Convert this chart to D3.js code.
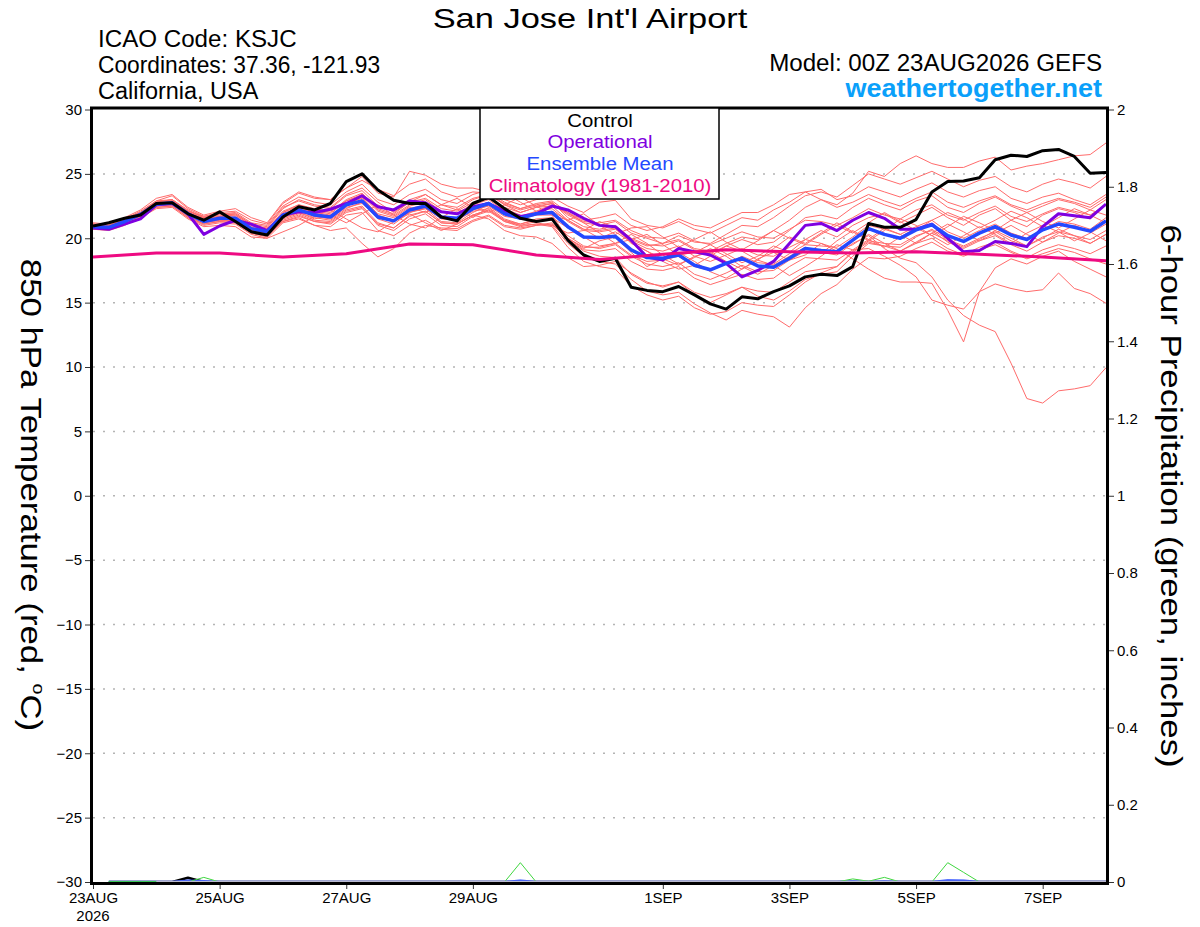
<!DOCTYPE html>
<html>
<head>
<meta charset="utf-8">
<script src="https://cdn.jsdelivr.net/npm/d3@7"></script>
<style>
  body { margin: 0; background: #fff; }
  svg { display: block; font-family: "Liberation Sans", Arial, Helvetica, sans-serif; }
</style>
</head>
<body>
<svg id="chart" width="1200" height="927"></svg>
<script>
// run start and 6-hourly steps (0..384 h)
var runStart = Date.UTC(2026, 7, 23, 0);
var stepHours = 6;

var controlTemp = [20.95,21.2,21.55,21.8,22.7, 22.75,21.9,21.4,22.05,21.3, 20.5,20.25,21.65,22.45,22.2, 22.7,24.4,25.0,23.75,22.95,
  22.7,22.7,21.65,21.35,22.7, 23.2,22.3,21.55,21.3,21.5, 19.85,18.7,18.2,18.45,16.2, 15.95,15.85,16.25,15.6,14.9,
  14.5,15.45,15.3,15.85,16.3, 17.0,17.2,17.1,17.8,21.15, 20.85,20.85,21.45,23.6,24.4, 24.45,24.7,26.1,26.45,26.35,
  26.8,26.9,26.35,25.05,25.1];

var operationalTemp = [20.8,20.7,21.1,21.5,22.6, 22.7,21.9,20.3,20.95,21.4, 21.1,20.6,21.8,22.05,22.0, 22.25,22.7,23.3,22.45,22.2,
  22.9,22.75,22.05,21.9,22.45, 22.7,22.1,21.7,21.9,22.5, 22.2,21.55,21.0,20.9,19.85, 18.55,18.3,19.2,18.95,18.7,
  18.05,17.0,17.5,18.2,19.6, 21.0,21.15,20.6,21.4,22.0, 21.55,20.7,20.7,21.1,20.0, 18.95,19.05,19.75,19.6,19.35,
  20.9,21.9,21.75,21.6,22.65];

var meanTemp = [20.9,20.85,21.3,21.85,22.65, 22.75,21.9,21.3,21.55,21.55, 20.75,20.5,21.8,22.2,21.8, 21.65,22.6,22.9,21.65,21.35,
  22.2,22.5,21.65,21.55,22.3, 22.7,21.9,21.55,21.9,22.0, 20.9,20.1,20.05,20.15,19.1, 18.5,18.45,18.7,17.9,17.55,
  18.05,18.45,17.85,17.75,18.45, 19.2,19.05,18.95,19.85,20.75, 20.3,20.0,20.65,21.05,20.2, 19.75,20.4,20.9,20.25,19.9,
  20.65,21.1,20.85,20.55,21.35];

// daily climatology (00Z each day)
var climoTemp = [18.55,18.85,18.85,18.55,18.8,19.55,19.5,18.7,18.35,18.75,19.1,18.95,18.85,18.95,18.75,18.55,18.25];

var ensembleMembers = [
  [21.1,21.0,21.5,22.0,22.9, 23.0,22.2,21.6,21.9,21.8, 21.0,20.8,22.3,23.0,22.6, 22.4,23.4,23.9,22.8,22.0, 22.8,23.4,22.6,22.2,23.0, 23.4,22.6,22.0,22.4,22.7, 21.8,21.2,21.0,21.3,20.4, 20.0,19.6,19.9,19.2,19.0, 19.6,20.1,19.9,20.6,21.4, 22.4,23.0,22.6,23.5,25.2, 24.8,25.8,26.4,25.8,25.5, 25.5,26.0,26.3,25.3,25.6, 25.8,26.1,26.4,26.5,27.4],
  [20.8,20.7,21.2,21.7,22.5, 22.6,21.7,21.1,21.3,21.2, 20.4,20.2,21.4,21.8,21.3, 21.2,22.1,22.4,21.0,20.6, 21.5,21.9,21.0,20.9,21.7, 22.1,21.3,21.0,21.3,21.4, 20.2,19.4,19.2,19.5,18.6, 18.0,17.8,18.1,17.2,16.8, 17.3,17.9,17.4,17.5,18.3, 19.0,18.9,18.7,19.6,20.2, 19.2,18.45,18.1,17.0,15.2, 14.0,13.25,12.75,10.3,7.55, 7.2,8.15,8.3,8.55,9.95],
  [21.0,20.9,21.4,21.9,22.7, 22.9,22.0,21.5,21.7,21.9, 21.1,20.7,22.0,22.6,22.1, 21.9,22.9,23.4,22.2,21.8, 22.6,23.0,22.1,21.9,22.6, 23.0,22.1,21.7,22.1,22.3, 21.3,20.6,20.5,20.7,19.8, 19.2,19.0,19.4,18.6,18.2, 18.7,19.2,18.7,18.6,19.3, 19.9,19.6,19.2,18.4,17.6, 16.9,16.6,16.6,16.5,14.4, 11.95,15.85,17.7,18.4,18.0, 18.6,19.0,18.2,17.6,17.0],
  [20.7,20.6,21.0,21.6,22.4, 22.5,21.6,21.0,21.2,21.1, 20.3,20.0,21.2,21.5,21.0, 20.9,21.8,22.0,20.6,20.2, 21.0,21.4,20.7,20.6,21.3, 21.7,20.9,20.7,21.0,21.1, 19.9,19.1,19.0,19.2,18.2, 17.6,17.5,17.8,16.9,16.4, 16.8,17.2,16.8,16.9,17.8, 18.5,18.4,18.3,19.1,19.2, 18.6,17.9,17.0,15.2,14.8, 14.5,15.85,16.45,16.1,15.85, 16.0,17.3,16.1,15.7,14.95],
  [20.9,20.8,21.2,21.8,22.6, 22.7,21.8,21.2,21.4,21.4, 20.6,20.3,21.5,21.9,21.4, 21.3,22.2,22.5,21.2,20.8, 21.7,22.1,21.2,21.1,21.8, 22.2,21.3,20.9,21.1,21.0, 19.6,18.6,18.2,18.0,16.8, 15.9,15.6,15.8,14.9,14.2, 13.65,14.4,14.1,13.9,13.1, 14.6,15.7,16.4,17.6,18.5, 18.4,18.6,19.2,19.7,19.0, 18.6,19.1,19.5,18.9,18.4, 18.8,19.2,18.9,18.4,18.0],
  [21.0,21.0,21.4,22.0,22.8, 23.0,22.1,21.7,21.9,22.0, 21.2,21.0,22.5,23.2,22.8, 22.6,23.6,24.2,23.0,22.6, 23.4,23.8,23.0,22.7,23.4, 23.75,23.0,22.6,23.0,23.2, 22.5,22.0,22.8,22.95,21.5, 21.0,20.8,21.3,20.7,20.4, 21.0,21.6,21.4,22.2,22.8, 23.6,23.8,23.0,23.3,24.0, 23.6,23.2,23.8,24.3,23.6, 23.2,23.7,24.0,23.1,22.7, 23.2,23.5,23.0,22.6,23.4],
  [21.2,21.1,21.6,22.2,23.1, 23.4,22.4,21.8,22.1,22.3, 21.6,21.2,22.8,23.6,23.2, 23.0,23.9,24.8,23.5,23.2, 25.2,24.9,24.2,23.9,23.9, 23.6,22.8,22.3,22.6,22.8, 21.6,20.9,20.7,21.0,20.0, 19.5,19.4,19.8,19.1,18.8, 19.4,19.9,19.5,19.7,20.6, 21.6,21.8,21.5,22.4,23.1, 22.6,22.2,22.9,23.3,22.4, 22.0,22.7,23.2,22.5,22.0, 22.5,23.0,22.7,22.2,23.0],
  [20.8,20.8,21.3,21.8,22.5, 22.6,21.7,21.2,21.4,21.3, 20.5,20.2,21.3,21.6,21.0, 20.6,20.8,19.6,18.55,19.2, 20.4,21.0,20.8,20.75,21.4, 21.8,21.0,20.8,21.0,21.2, 20.0,19.3,19.3,19.6,18.7, 18.2,18.3,18.6,17.8,17.5, 18.0,18.6,18.1,18.0,18.8, 19.5,19.4,19.3,20.1,21.0, 20.7,20.3,20.9,21.4,20.5, 20.0,20.6,21.1,20.4,20.0, 20.7,21.3,21.1,20.7,21.6],
  [20.9,20.9,21.2,21.7,22.5, 22.8,22.0,21.4,21.6,21.6, 20.8,20.5,21.9,22.4,22.0, 21.8,22.6,23.2,21.8,21.4, 22.0,22.3,21.3,21.2,22.0, 22.6,22.3,21.8,21.2,21.0, 20.4,20.6,21.3,20.8,19.6, 19.0,18.2,17.6,17.9,18.6, 19.4,19.0,18.3,19.2,20.1, 19.6,20.4,21.2,20.5,19.8, 20.6,21.5,21.0,20.2,20.9, 21.7,21.2,20.6,21.4,22.0, 21.3,20.8,21.5,22.2,21.8],
  [21.0,20.9,21.4,21.9,22.7, 22.9,22.1,21.6,21.8,21.7, 20.9,20.7,22.1,22.6,22.3, 22.1,22.9,23.3,22.1,21.7, 22.5,22.8,22.1,21.9,22.7, 23.1,23.5,22.8,22.1,22.6, 22.0,21.2,20.4,19.6,19.9, 20.3,19.5,18.7,18.9,19.5, 18.8,18.1,18.6,19.4,18.9, 19.9,20.6,20.1,21.0,21.6, 21.9,21.2,21.8,22.4,21.6, 21.0,21.8,22.3,21.4,20.9, 21.8,22.3,22.0,21.5,22.6],
  [20.8,20.7,21.1,21.6,22.3, 22.4,21.5,20.9,21.0,20.9, 20.1,20.0,20.5,21.0,21.7, 22.2,21.5,20.8,20.5,21.3, 21.9,21.2,20.6,21.1,21.8, 21.5,20.6,20.2,20.1,19.6, 18.5,17.8,17.9,18.2,17.3, 16.6,16.2,16.6,15.8,15.4, 15.7,16.2,15.9,15.8,16.6, 17.4,17.6,17.8,18.9,19.7, 19.4,19.0,19.6,20.0,19.2, 18.7,19.3,19.7,19.0,18.5, 19.1,19.5,19.2,18.8,19.4],
  [20.9,20.8,21.3,21.9,22.6, 22.7,21.9,21.3,21.5,21.6, 20.7,20.4,21.6,22.0,21.6, 21.4,22.3,22.8,21.5,21.1, 22.0,22.4,21.5,21.4,22.2, 22.5,21.7,21.5,21.9,22.1, 21.4,21.9,21.0,20.3,20.8, 20.9,20.1,19.3,19.9,20.5, 19.7,19.1,19.8,20.6,20.0, 19.5,20.3,21.0,20.4,21.2, 22.0,21.3,20.6,21.4,22.0, 21.5,20.8,21.4,22.1,21.6, 20.9,21.6,22.3,21.8,21.2],
  [20.9,20.8,21.2,21.8,22.6, 22.7,21.8,21.3,21.4,21.4, 20.6,20.3,21.6,22.0,21.5, 21.8,21.2,21.9,22.6,21.8, 21.1,20.8,21.6,22.3,21.6, 22.4,21.5,21.1,21.4,21.4, 19.9,19.0,18.6,18.5,17.2, 16.5,16.3,16.6,15.6,15.0, 15.6,16.2,15.5,15.2,15.9, 16.8,17.2,17.4,18.6,19.6, 19.4,19.3,20.1,20.7,19.9, 19.4,20.0,20.5,19.8,19.4, 20.1,20.5,20.2,19.9,20.6],
  [21.0,20.9,21.4,21.9,22.7, 22.8,22.0,21.5,21.7,21.8, 21.0,20.6,22.0,22.5,22.2, 22.0,23.0,23.5,22.3,21.9, 22.8,23.1,22.3,22.1,22.8, 23.2,22.4,22.0,22.4,22.5, 21.4,20.7,20.6,20.8,19.9, 19.4,19.6,20.2,19.7,19.6, 20.3,21.0,20.9,21.6,22.5, 23.3,23.6,23.2,24.1,25.0, 24.6,24.2,24.7,25.2,24.6, 24.0,24.5,24.8,24.0,23.6, 24.2,24.6,24.3,23.9,24.8],
  [20.8,20.8,21.3,21.8,22.6, 22.7,21.9,21.4,21.6,21.5, 20.8,20.6,21.8,22.1,21.7, 21.5,22.4,22.7,21.6,21.3, 22.3,22.6,21.7,21.6,22.4, 22.8,21.9,21.5,21.8,21.8, 20.0,19.2,19.8,20.1,18.9, 17.8,18.4,18.9,18.2,17.4, 16.9,17.6,18.3,17.9,17.1, 17.8,18.6,19.5,19.1,19.9, 20.8,20.3,19.6,20.4,21.1, 20.5,19.8,20.4,21.0,20.3, 19.7,20.4,21.0,20.5,19.8],
  [20.9,20.9,21.3,21.8,22.7, 22.8,22.0,21.5,21.7,21.6, 20.7,20.4,21.7,22.2,21.9, 21.7,22.5,23.0,21.7,21.3, 22.1,22.3,21.6,21.4,22.1, 22.3,21.4,21.0,21.1,20.9, 19.3,18.2,17.8,17.6,16.3, 15.6,15.2,15.5,14.6,14.1, 14.3,15.0,14.8,14.7,15.6, 16.6,17.3,17.8,19.0,19.8, 19.6,19.5,20.2,20.6,19.7, 19.2,19.8,20.2,19.5,19.0, 19.7,20.2,20.0,19.6,20.3],
  [21.1,21.0,21.5,22.0,22.8, 23.0,22.1,21.6,21.9,21.9, 21.1,20.9,22.4,22.9,22.5, 22.3,23.3,23.7,22.5,22.1, 23.0,23.4,22.6,22.4,23.1, 23.4,22.7,22.3,22.7,22.9, 22.0,21.4,21.6,21.9,21.0, 20.6,20.9,21.5,21.0,20.8, 21.4,22.0,22.0,22.6,23.4, 23.6,23.0,22.4,22.8,23.4, 22.9,22.5,23.1,23.6,22.8, 22.4,22.9,23.3,22.6,22.2, 22.7,23.1,22.8,22.4,23.2],
  [20.7,20.7,21.1,21.7,22.4, 22.5,21.6,21.1,21.3,21.2, 20.4,20.1,21.3,21.7,21.3, 21.1,22.0,22.3,21.1,20.8, 21.8,22.1,21.2,21.1,21.8, 22.2,21.4,21.1,21.5,21.6, 20.8,20.1,19.4,19.6,20.3, 19.6,18.7,18.0,18.5,19.2, 18.6,17.8,17.2,17.9,18.6, 19.3,18.8,19.8,20.6,19.9, 19.3,20.1,20.8,20.2,19.5, 20.2,20.9,20.3,19.6,20.4, 21.0,20.5,19.8,20.4,21.1],
  [21.0,20.9,21.3,21.9,22.6, 22.8,22.0,21.4,21.6,21.6, 20.8,20.6,21.9,22.3,21.9, 21.7,22.7,23.1,21.9,21.6, 22.4,22.0,22.6,23.1,22.4, 22.0,22.6,23.2,22.5,21.8, 21.4,20.7,20.0,20.5,19.7, 19.0,18.4,17.9,18.6,18.9, 18.2,17.6,18.4,18.9,18.3, 18.7,19.6,19.0,19.5,20.3, 19.6,19.0,19.7,20.4,19.8, 19.3,19.9,20.6,20.0,19.4, 20.0,20.7,20.2,19.6,20.3],
  [21.1,21.0,21.5,22.1,22.9, 23.3,22.3,21.7,22.0,22.1, 21.4,21.1,22.7,23.5,23.1, 23.0,23.9,24.5,23.8,23.3, 24.2,24.6,23.6,23.2,23.6, 23.5,22.6,22.2,22.5,22.7, 21.9,21.3,21.2,21.4,20.6, 20.1,20.0,20.4,19.8,19.5, 20.0,20.5,20.1,20.0,20.7, 21.4,21.3,21.0,21.6,22.3, 21.8,21.5,22.2,22.6,21.8, 21.4,22.0,22.5,21.7,21.3, 21.9,22.4,22.1,21.8,22.6]
];

// 6-hour precipitation (inches), one value per step 1..64 (first step has none)
var controlPrecip = [0,0,0,0,0,0.011,0,0,0,0, 0,0,0,0,0,0,0,0,0,0, 0,0,0,0,0,0,0,0,0,0, 0,0,0,0,0,0,0,0,0,0,
  0,0,0,0,0,0,0,0,0,0, 0,0,0,0,0,0,0,0,0,0, 0,0,0,0];
var meanPrecip = [0,0,0,0,0,0.003,0.002,0,0,0, 0,0,0,0,0,0,0,0,0,0, 0,0,0,0,0,0,0.003,0,0,0, 0,0,0,0,0,0,0,0,0,0,
  0,0,0,0,0,0,0,0.001,0,0.001, 0,0,0,0.004,0.003,0,0,0,0,0, 0,0,0,0];
var memberPrecip = [
  [0,0,0,0,0,0,0.012,0,0,0, 0,0,0,0,0,0,0,0,0,0, 0,0,0,0,0,0,0,0,0,0, 0,0,0,0,0,0,0,0,0,0, 0,0,0,0,0,0,0,0,0,0, 0,0,0,0,0,0,0,0,0,0, 0,0,0,0],
  [0,0,0,0,0,0,0,0,0,0, 0,0,0,0,0,0,0,0,0,0, 0,0,0,0,0,0,0.05,0,0,0, 0,0,0,0,0,0,0,0,0,0, 0,0,0,0,0,0,0,0,0,0, 0,0,0,0,0,0,0,0,0,0, 0,0,0,0],
  [0,0,0,0,0,0,0,0,0,0, 0,0,0,0,0,0,0,0,0,0, 0,0,0,0,0,0,0,0,0,0, 0,0,0,0,0,0,0,0,0,0, 0,0,0,0,0,0,0,0.008,0.002,0.012, 0,0,0,0.05,0.025,0,0,0,0,0, 0,0,0,0]
];
var climoPrecip = [0,0,0,0,0,0,0,0,0,0,0,0,0,0,0,0];

var tempTicks = [30,25,20,15,10,5,0,-5,-10,-15,-20,-25,-30];
var precipTicks = [0,0.2,0.4,0.6,0.8,1,1.2,1.4,1.6,1.8,2];
var dateTicks = [Date.UTC(2026,7,23), Date.UTC(2026,7,25), Date.UTC(2026,7,27), Date.UTC(2026,7,29),
  Date.UTC(2026,8,1), Date.UTC(2026,8,3), Date.UTC(2026,8,5), Date.UTC(2026,8,7)];

var colors = {
  member: '#ff6b6b',
  control: '#000000',
  operational: '#7f00e0',
  mean: '#2448ff',
  climo: '#ee0a82',
  green: '#3fd63f',
  climoPrecip: '#b9b9cf',
  grid: '#b4b4b4'
};

var plot = { left: 93, right: 1106, top: 109.5, bottom: 882 };
var fontFamily = '"Liberation Sans", Arial, Helvetica, sans-serif';

var svg = d3.select('#chart');

var xScale = d3.scaleUtc()
  .domain([new Date(runStart), new Date(runStart + 384 * 3600e3)])
  .range([plot.left, plot.right]);
var yScale = d3.scaleLinear().domain([-30, 30]).range([plot.bottom, plot.top]);
var pScale = d3.scaleLinear().domain([0, 2]).range([plot.bottom, plot.top]);

function stepTime(i, hours) {
  return new Date(runStart + i * hours * 3600e3);
}

function addText(parent, x, y, str, size, anchor, sx, fill, weight) {
  return parent.append('text')
    .attr('transform', 'translate(' + x + ',' + y + ') scale(' + sx + ',1)')
    .attr('text-anchor', anchor)
    .style('font-size', size + 'px')
    .style('font-weight', weight || 'normal')
    .style('fill', fill || '#000')
    .text(str);
}

// header
addText(svg, 590, 27.5, "San Jose Int'l Airport", 28, 'middle', 1.23);
addText(svg, 98, 47, 'ICAO Code: KSJC', 23, 'start', 1.05);
addText(svg, 98, 73, 'Coordinates: 37.36, -121.93', 23, 'start', 0.99);
addText(svg, 98, 99, 'California, USA', 23, 'start', 1.02);
addText(svg, 1102, 71, 'Model: 00Z 23AUG2026 GEFS', 23, 'end', 1.05);
addText(svg, 1102, 97, 'weathertogether.net', 25, 'end', 1.08, '#0aa0fa', 'bold');

// gridlines
svg.append('g').selectAll('line')
  .data(tempTicks.filter(function (d) { return d > -30 && d < 30; }))
  .enter().append('line')
  .attr('x1', plot.left).attr('x2', plot.right)
  .attr('y1', function (d) { return yScale(d); })
  .attr('y2', function (d) { return yScale(d); })
  .style('stroke', colors.grid)
  .style('stroke-width', 1.5)
  .style('stroke-dasharray', '2,8');

svg.append('clipPath').attr('id', 'plot-clip')
  .append('rect')
  .attr('x', plot.left).attr('y', plot.top)
  .attr('width', plot.right - plot.left).attr('height', plot.bottom - plot.top);

var lines = svg.append('g').attr('clip-path', 'url(#plot-clip)');

var tempLine = d3.line()
  .x(function (d, i) { return xScale(stepTime(i, stepHours)); })
  .y(function (d) { return yScale(d); });
var climoLine = d3.line()
  .x(function (d, i) { return xScale(stepTime(i, 24)); })
  .y(function (d) { return yScale(d); });
var precipLine = d3.line()
  .x(function (d, i) { return xScale(stepTime(i + 1, stepHours)); })
  .y(function (d) { return pScale(d); });
var climoPrecipLine = d3.line()
  .x(function (d, i) { return xScale(stepTime(i + 1, 24)); })
  .y(function (d) { return pScale(d); });

function drawSeries(g, data, gen, color, width) {
  g.append('path')
    .datum(data)
    .attr('d', gen)
    .style('fill', 'none')
    .style('stroke', color)
    .style('stroke-width', width)
    .style('stroke-linejoin', 'round');
}

ensembleMembers.forEach(function (m) {
  drawSeries(lines, m, tempLine, colors.member, 1);
});
drawSeries(lines, operationalTemp, tempLine, colors.operational, 3);
drawSeries(lines, meanTemp, tempLine, colors.mean, 3.5);
drawSeries(lines, controlTemp, tempLine, colors.control, 3);
drawSeries(lines, climoTemp, climoLine, colors.climo, 3);

// precipitation (zero stretches end up under the light climatology line)
drawSeries(lines, controlPrecip, precipLine, colors.control, 2.5);
drawSeries(lines, meanPrecip, precipLine, colors.mean, 2.5);
memberPrecip.forEach(function (m) {
  drawSeries(lines, m, precipLine, colors.green, 1);
});
drawSeries(lines, climoPrecip, climoPrecipLine, colors.climoPrecip, 2.5);

// frame (drawn just outside the plot area)
svg.append('rect')
  .attr('x', plot.left - 1.5).attr('y', plot.top - 1.5)
  .attr('width', plot.right - plot.left + 3).attr('height', plot.bottom - plot.top + 3)
  .style('fill', 'none').style('stroke', '#000').style('stroke-width', 3);

// left axis
var leftAxis = svg.append('g')
  .attr('transform', 'translate(' + (plot.left - 3) + ',0)')
  .call(d3.axisLeft(yScale).tickValues(tempTicks).tickSize(5).tickPadding(3).tickFormat(d3.format('d')));
leftAxis.select('.domain').remove();
leftAxis.selectAll('text').style('font-size', '15px').style('font-family', fontFamily);
leftAxis.selectAll('line').style('stroke', '#333');

// right axis
var rightAxis = svg.append('g')
  .attr('transform', 'translate(' + (plot.right + 3) + ',0)')
  .call(d3.axisRight(pScale).tickValues(precipTicks).tickSize(5).tickPadding(3).tickFormat(d3.format('.1~f')));
rightAxis.select('.domain').remove();
rightAxis.selectAll('text').style('font-size', '15px').style('font-family', fontFamily);
rightAxis.selectAll('line').style('stroke', '#333');

// bottom axis
var fmtDay = d3.utcFormat('%-d%b');
var bottomAxis = svg.append('g')
  .attr('transform', 'translate(0,' + (plot.bottom + 3) + ')')
  .call(d3.axisBottom(xScale)
    .tickValues(dateTicks.map(function (d) { return new Date(d); }))
    .tickSize(4).tickPadding(3)
    .tickFormat(function (d) { return fmtDay(d).toUpperCase(); }));
bottomAxis.select('.domain').remove();
bottomAxis.selectAll('text').style('font-size', '15px').style('font-family', fontFamily).style('fill', '#000');
bottomAxis.selectAll('line').style('stroke', '#333');
addText(svg, xScale(new Date(dateTicks[0])), 921, d3.utcFormat('%Y')(new Date(dateTicks[0])), 15, 'middle', 1.0);

// axis titles
var leftTitle = svg.append('text')
  .attr('transform', 'translate(21,495) rotate(90) scale(1.16,1)')
  .attr('text-anchor', 'middle')
  .style('font-size', '30px');
leftTitle.append('tspan').text('850 hPa Temperature (red, ');
leftTitle.append('tspan').attr('dy', -12).style('font-size', '17px').text('o');
leftTitle.append('tspan').attr('dy', 12).text('C)');

svg.append('text')
  .attr('transform', 'translate(1161,496) rotate(90) scale(1.16,1)')
  .attr('text-anchor', 'middle')
  .style('font-size', '30px')
  .text('6-hour Precipitation (green, inches)');

// legend
var legendItems = [
  { name: 'Control', color: colors.control },
  { name: 'Operational', color: colors.operational },
  { name: 'Ensemble Mean', color: colors.mean },
  { name: 'Climatology (1981-2010)', color: colors.climo }
];
var legend = svg.append('g');
legend.append('rect')
  .attr('x', 480).attr('y', plot.top - 1.5)
  .attr('width', 239).attr('height', 91)
  .style('fill', '#fff').style('stroke', '#000').style('stroke-width', 1.5);
legendItems.forEach(function (d, i) {
  addText(legend, 600, 126.5 + i * 21.7, d.name, 18.5, 'middle', 1.1, d.color);
});
</script>
</body>
</html>
